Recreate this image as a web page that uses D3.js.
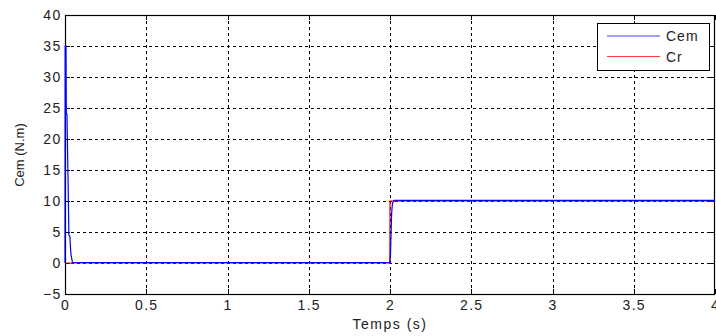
<!DOCTYPE html>
<html>
<head>
<meta charset="utf-8">
<script src="https://cdn.jsdelivr.net/npm/d3@7"></script>
<style>
  body { margin: 0; background: #fff; }
  text { font-family: "Liberation Sans", Arial, sans-serif; }
</style>
</head>
<body>
<div id="chart"></div>
<script>
// Cem (electromagnetic torque) samples
var cemTime  = [0, 0.001, 0.006, 0.008, 0.012, 0.02, 0.024, 0.03, 0.036, 0.046, 1.999, 2.003, 2.01, 2.015, 2.025, 4];
var cemValue = [0, 35,    35,    24,    24,    11.5, 4.5,   4.3,  1.5,   0.08,  0.08,  1.3,   8,    9.6,   10.1,  10.1];
// Cr (load torque)
var crTime  = [0, 1.999, 2.0, 4];
var crValue = [0, 0,     10,  10];

var xTicks = [0, 0.5, 1, 1.5, 2, 2.5, 3, 3.5, 4];
var yTicks = [-5, 0, 5, 10, 15, 20, 25, 30, 35, 40];
var legendNames = ["Cem", "Cr"];
var legendColors = ["#0000ff", "#ff0000"];

(function () {
var outerWidth = 716, outerHeight = 336;
var pLeft = 65, pRight = 715, pTop = 15, pBottom = 294;

var svg = d3.select("#chart").append("svg")
    .attr("width", outerWidth)
    .attr("height", outerHeight);

var x = d3.scaleLinear().domain([0, 4]).range([pLeft, pRight]);
var y = d3.scaleLinear().domain([-5, 40]).range([pBottom, pTop]);

// grid
svg.append("g").selectAll("line")
    .data(xTicks.slice(1, -1))
    .enter().append("line")
    .attr("x1", function (d) { return Math.round(x(d)) + 0.5; })
    .attr("x2", function (d) { return Math.round(x(d)) + 0.5; })
    .attr("y1", pTop).attr("y2", pBottom)
    .attr("stroke", "#000").attr("stroke-width", 1)
    .attr("stroke-dasharray", "3,3");

svg.append("g").selectAll("line")
    .data(yTicks.slice(1, -1))
    .enter().append("line")
    .attr("y1", function (d) { return Math.round(y(d)) + 0.5; })
    .attr("y2", function (d) { return Math.round(y(d)) + 0.5; })
    .attr("x1", pLeft).attr("x2", pRight)
    .attr("stroke", "#000").attr("stroke-width", 1)
    .attr("stroke-dasharray", "3,3");

// axes
var xAxis = d3.axisBottom(x).tickValues(xTicks).tickSize(0).tickPadding(6)
    .tickFormat(function (d) { return d; });
var yAxis = d3.axisLeft(y).tickValues(yTicks).tickSize(0).tickPadding(3.5);

var gx = svg.append("g").attr("transform", "translate(0," + pBottom + ")").call(xAxis);
var gy = svg.append("g").attr("transform", "translate(" + pLeft + ",0)").call(yAxis);
[gx, gy].forEach(function (g) {
  g.select(".domain").remove();
  g.selectAll("text").attr("font-size", 14).attr("fill", "#222")
    .attr("letter-spacing", 1.3)
    .style("font-family", "'Liberation Sans', Arial, sans-serif");
});

// inner tick marks
xTicks.forEach(function (t) {
  var xx = Math.round(x(t)) + 0.5;
  svg.append("line").attr("x1", xx).attr("x2", xx)
    .attr("y1", pBottom).attr("y2", pBottom - 5).attr("stroke", "#000");
  svg.append("line").attr("x1", xx).attr("x2", xx)
    .attr("y1", pTop).attr("y2", pTop + 5).attr("stroke", "#000");
});
yTicks.forEach(function (t) {
  var yy = Math.round(y(t)) + 0.5;
  svg.append("line").attr("x1", pLeft).attr("x2", pLeft + 5)
    .attr("y1", yy).attr("y2", yy).attr("stroke", "#000");
  svg.append("line").attr("x1", pRight).attr("x2", pRight - 5)
    .attr("y1", yy).attr("y2", yy).attr("stroke", "#000");
});

// frame
svg.append("rect")
    .attr("x", pLeft + 0.5).attr("y", pTop + 0.5)
    .attr("width", pRight - pLeft - 1).attr("height", pBottom - pTop)
    .attr("fill", "none").attr("stroke", "#000").attr("stroke-width", 1.2);

// series
var line = d3.line()
    .x(function (d) { return x(d[0]); })
    .y(function (d) { return y(d[1]); });

var crData = d3.zip(crTime, crValue);
var cemData = d3.zip(cemTime, cemValue);

svg.append("path").datum(crData).attr("d", line)
    .attr("fill", "none").attr("stroke", legendColors[1]).attr("stroke-width", 1.2);
svg.append("path").datum(cemData).attr("d", line)
    .attr("fill", "none").attr("stroke", legendColors[0]).attr("stroke-width", 1.2);

// legend
var lg = svg.append("g").attr("transform", "translate(597,23)");
lg.append("rect").attr("x", 0.5).attr("y", 0.5).attr("width", 112).attr("height", 47)
    .attr("fill", "#fff").attr("stroke", "#000").attr("stroke-width", 1);
legendNames.forEach(function (name, i) {
  var ly = 13 + i * 20.5;
  lg.append("line").attr("x1", 10).attr("x2", 63).attr("y1", ly).attr("y2", ly)
    .attr("stroke", legendColors[i]).attr("stroke-width", 1.2).attr("opacity", 0.75);
  lg.append("text").attr("x", 69).attr("y", ly + 5).attr("font-size", 14)
    .attr("letter-spacing", 1).attr("fill", "#222").text(name);
});

// axis titles
svg.append("text").attr("x", 390).attr("y", 329).attr("text-anchor", "middle")
    .attr("font-size", 14).attr("letter-spacing", 1.5).attr("fill", "#222").text("Temps (s)");
svg.append("text").attr("transform", "translate(24,155) rotate(-90)")
    .attr("text-anchor", "middle").attr("font-size", 13).attr("fill", "#222")
    .text("Cem (N.m)");
})();
</script>
</body>
</html>
